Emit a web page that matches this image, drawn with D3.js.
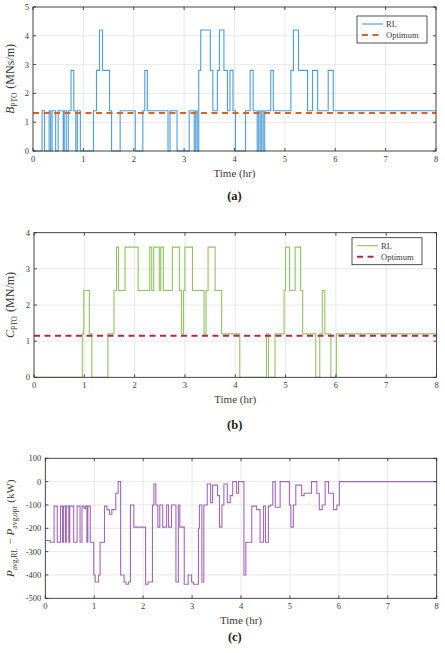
<!DOCTYPE html>
<html><head><meta charset="utf-8">
<script src="https://cdn.jsdelivr.net/npm/d3@7"></script>
<style>
html,body{margin:0;padding:0;background:#fff;}
text{font-family:"Liberation Serif","DejaVu Serif",serif;}
</style></head>
<body>
<svg id="c" width="445" height="653"></svg>
<script>
// ---- data (step series: value holds from time[i] until time[i+1]) ----
const xTicks = [0,1,2,3,4,5,6,7,8];
const bTicks = [0,1,2,3,4,5];
const cTicks = [0,1,2,3,4];
const pTicks = [-500,-400,-300,-200,-100,0,100];

const bTimes  = [0,0.18,0.23,0.32,0.35,0.38,0.45,0.5,0.6,0.62,0.66,0.7,0.755,0.81,0.85,0.88,0.94,1.2,1.26,1.32,1.38,1.52,1.56,1.73,2.03,2.18,2.22,2.27,2.68,2.72,2.86,3.1,3.2,3.23,3.26,3.29,3.33,3.52,3.57,3.66,3.7,3.79,3.86,3.91,3.97,4.02,4.22,4.31,4.37,4.45,4.48,4.51,4.54,4.57,4.6,4.72,4.77,5.12,5.17,5.27,5.45,5.55,5.65,5.86,5.96];
const bValues = [0,1.4,0,1.4,0,1.4,0,1.4,0,1.4,0,1.4,2.8,1.4,0,1.4,0,1.4,2.8,4.2,2.8,1.4,0,1.4,0,1.4,2.8,1.4,0,1.4,0,1.4,0,1.4,0,2.8,4.2,2.8,1.4,2.8,4.2,2.8,1.4,2.8,1.4,0,1.4,2.8,1.4,0,1.4,0,1.4,0,1.4,2.8,1.4,2.8,4.2,2.8,1.4,2.8,1.4,2.8,1.4];
const bOpt = 1.32;

const cTimes  = [0,0.96,0.99,1.1,1.15,1.47,1.59,1.64,1.68,1.81,2.07,2.3,2.34,2.38,2.49,2.52,2.57,2.75,2.89,2.93,2.97,3.0,3.15,3.38,3.42,3.46,3.6,3.73,4.09,4.62,4.66,4.79,4.97,5.0,5.08,5.19,5.3,5.34,5.6,5.68,5.73,5.78,5.9,6.01];
const cValues = [0,1.2,2.4,1.2,0,1.2,2.4,3.6,2.4,3.6,2.4,3.6,2.4,3.6,2.4,3.6,2.4,3.6,2.4,1.2,2.4,3.6,2.4,1.2,2.4,3.6,2.4,1.2,0,1.2,0,1.2,2.4,3.6,2.4,3.6,2.4,1.2,0,1.2,2.4,1.2,0,1.2];
const cOpt = 1.15;

const pTimes  = [0,0.1,0.18,0.245,0.31,0.35,0.37,0.41,0.43,0.48,0.5,0.58,0.65,0.71,0.75,0.79,0.82,0.85,0.87,0.92,0.99,1.02,1.09,1.12,1.21,1.26,1.31,1.36,1.44,1.49,1.54,1.61,1.65,1.7,1.74,1.81,2.05,2.1,2.19,2.22,2.26,2.3,2.34,2.4,2.48,2.52,2.58,2.67,2.72,2.75,2.84,2.92,2.99,3.03,3.13,3.15,3.2,3.24,3.31,3.38,3.42,3.52,3.56,3.61,3.65,3.72,3.78,3.83,3.91,3.95,4.06,4.1,4.22,4.32,4.39,4.46,4.5,4.56,4.6,4.65,4.7,4.8,4.99,5.02,5.07,5.12,5.24,5.29,5.44,5.55,5.6,5.66,5.72,5.79,5.89,5.96,6.01];
const pValues = [-252,-260,-105,-260,-105,-260,-105,-260,-105,-260,-105,-260,-105,-260,-105,-115,-105,-260,-105,-260,-400,-430,-400,-260,-105,-120,-140,-120,-50,0,-400,-430,-440,-430,-100,-195,-440,-430,-100,-10,-100,-195,-100,-195,-100,-195,-100,-430,-100,-195,-440,-400,-430,-440,-200,-100,-430,-100,-10,-90,-15,-60,-195,-100,-10,-90,-60,0,-50,0,-400,-260,-105,-120,-260,-105,-260,-105,-100,0,-110,0,-100,-195,-100,-15,-60,-50,0,-50,-120,-100,0,-50,-120,-100,0];

// ---- drawing ----
const svg = d3.select("#c");
const gridCol = "#e3e3e3", axCol = "#262626", txtCol = "#3a3a3a";

function panel(cfg){
  const x = d3.scaleLinear().domain([0,8]).range([cfg.x0, cfg.x1]);
  const y = d3.scaleLinear().domain(cfg.yDom).range([cfg.yB, cfg.yT]);
  const g = svg.append("g");
  g.selectAll(".gx").data(xTicks).join("line")
    .attr("x1",d=>x(d)).attr("x2",d=>x(d)).attr("y1",cfg.yT).attr("y2",cfg.yB)
    .attr("stroke",gridCol).attr("stroke-width",0.8);
  g.selectAll(".gy").data(cfg.yTicks).join("line")
    .attr("y1",d=>y(d)).attr("y2",d=>y(d)).attr("x1",cfg.x0).attr("x2",cfg.x1)
    .attr("stroke",gridCol).attr("stroke-width",0.8);
  const pts = cfg.times.map((t,i)=>[t,cfg.values[i]]);
  pts.push([8, cfg.values[cfg.values.length-1]]);
  const line = d3.line().x(d=>x(d[0])).y(d=>y(d[1])).curve(d3.curveStepAfter);
  g.append("path").attr("d",line(pts)).attr("fill","none")
    .attr("stroke",cfg.color).attr("stroke-width",1.1);
  if(cfg.opt!==undefined){
    g.append("line").attr("x1",x(0)).attr("x2",x(8)).attr("y1",y(cfg.opt)).attr("y2",y(cfg.opt))
      .attr("stroke",cfg.optColor).attr("stroke-width",2).attr("stroke-dasharray","6,4.5");
  }
  g.append("rect").attr("x",cfg.x0).attr("y",cfg.yT).attr("width",cfg.x1-cfg.x0).attr("height",cfg.yB-cfg.yT)
    .attr("fill","none").attr("stroke",axCol).attr("stroke-width",0.8);
  g.selectAll(".tx").data(xTicks).join("line")
    .attr("x1",d=>x(d)).attr("x2",d=>x(d)).attr("y1",cfg.yB).attr("y2",cfg.yB-3)
    .attr("stroke",axCol).attr("stroke-width",0.8);
  g.selectAll(".tx2").data(xTicks).join("line")
    .attr("x1",d=>x(d)).attr("x2",d=>x(d)).attr("y1",cfg.yT).attr("y2",cfg.yT+3)
    .attr("stroke",axCol).attr("stroke-width",0.8);
  g.selectAll(".ty").data(cfg.yTicks).join("line")
    .attr("y1",d=>y(d)).attr("y2",d=>y(d)).attr("x1",cfg.x0).attr("x2",cfg.x0+3)
    .attr("stroke",axCol).attr("stroke-width",0.8);
  g.selectAll(".ty2").data(cfg.yTicks).join("line")
    .attr("y1",d=>y(d)).attr("y2",d=>y(d)).attr("x1",cfg.x1).attr("x2",cfg.x1-3)
    .attr("stroke",axCol).attr("stroke-width",0.8);
  g.selectAll(".lx").data(xTicks).join("text")
    .attr("x",d=>x(d)).attr("y",cfg.yB+11).attr("text-anchor","middle")
    .attr("font-size",8.5).attr("fill",txtCol).text(d=>d);
  g.selectAll(".ly").data(cfg.yTicks).join("text")
    .attr("x",cfg.x0-4).attr("y",d=>y(d)+3).attr("text-anchor","end")
    .attr("font-size",8.5).attr("fill",txtCol).text(d=>d);
  g.append("text").attr("x",(cfg.x0+cfg.x1)/2).attr("y",cfg.yB+26).attr("text-anchor","middle")
    .attr("font-size",11).attr("fill",txtCol).text("Time (hr)");
  g.append("text").attr("x",(cfg.x0+cfg.x1)/2 - (cfg.x0-33)/2).attr("y",cfg.letterY).attr("text-anchor","middle")
    .attr("font-size",12.5).attr("font-weight","bold").attr("fill","#222").text(cfg.letter);
  const yt = g.append("text").attr("transform",`translate(${cfg.ylx},${(cfg.yT+cfg.yB)/2}) rotate(-90)`)
    .attr("text-anchor","middle").attr("font-size",cfg.ylSize).attr("fill",txtCol);
  cfg.ylabel(yt);
  if(cfg.legend){
    const L = cfg.legend;
    const lg = g.append("g");
    lg.append("rect").attr("x",L.x).attr("y",L.y).attr("width",L.w).attr("height",L.h)
      .attr("fill","#fff").attr("stroke",axCol).attr("stroke-width",0.8);
    lg.append("line").attr("x1",L.x+5).attr("x2",L.x+26).attr("y1",L.y+8).attr("y2",L.y+8)
      .attr("stroke",cfg.color).attr("stroke-width",1.1);
    lg.append("line").attr("x1",L.x+5).attr("x2",L.x+26).attr("y1",L.y+19).attr("y2",L.y+19)
      .attr("stroke",cfg.optColor).attr("stroke-width",2).attr("stroke-dasharray","6,4.5");
    lg.append("text").attr("x",L.x+29).attr("y",L.y+11).attr("font-size",8.5).attr("fill",txtCol).text("RL");
    lg.append("text").attr("x",L.x+29).attr("y",L.y+22).attr("font-size",8.5).attr("fill",txtCol).text("Optimum");
  }
}

function sub(t, main, subTxt){
  t.append("tspan").attr("font-style","italic").text(main);
  t.append("tspan").attr("font-size",7.5).attr("dy",2.5).text(subTxt);
  t.append("tspan").attr("dy",-2.5).text("\u200A");
}

panel({x0:33,x1:436,yT:7,yB:151,yDom:[0,5],yTicks:bTicks,times:bTimes,values:bValues,
  color:"#4d9dd6",opt:bOpt,optColor:"#d9622b",letter:"(a)",letterY:200,ylx:14,ylSize:12,
  legend:{x:357,y:16,w:70,h:27},
  ylabel:t=>{sub(t,"B","PTO"); t.append("tspan").text(" (MNs/m)");}});

panel({x0:34,x1:436.5,yT:232.7,yB:377.3,yDom:[0,4],yTicks:cTicks,times:cTimes,values:cValues,
  color:"#93c165",opt:cOpt,optColor:"#b0284a",letter:"(b)",letterY:429,ylx:14,ylSize:12,
  legend:{x:352,y:237.7,w:70,h:27},
  ylabel:t=>{sub(t,"C","PTO"); t.append("tspan").text(" (MN/m)");}});

panel({x0:45.3,x1:436.7,yT:458.3,yB:598.3,yDom:[-500,100],yTicks:pTicks,times:pTimes,values:pValues,
  color:"#a268b8",letter:"(c)",letterY:641,ylx:14,ylSize:11,
  ylabel:t=>{sub(t,"P","avg,RL"); t.append("tspan").text(" − "); sub(t,"P","avg,opt"); t.append("tspan").text(" (kW)");}});
</script>
</body></html>
